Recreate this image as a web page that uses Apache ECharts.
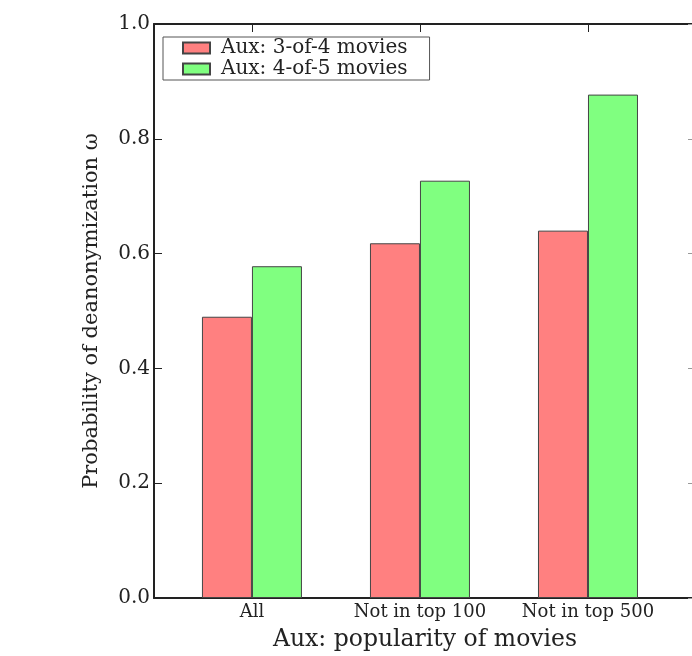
<!DOCTYPE html>
<html>
<head>
<meta charset="utf-8">
<script src="https://cdn.jsdelivr.net/npm/echarts@6/dist/echarts.min.js"></script>
<style>
html,body{margin:0;padding:0;background:#fff;}
#chart{width:692px;height:656px;}
</style>
</head>
<body>
<div id="chart"></div>
<script>
const categories = ['All', 'Not in top 100', 'Not in top 500'];
const seriesNames = ['Aux: 3-of-4 movies', 'Aux: 4-of-5 movies'];
const aux3of4 = [0.49, 0.618, 0.64];
const aux4of5 = [0.578, 0.727, 0.877];
const yTicks = [0.0, 0.2, 0.4, 0.6, 0.8, 1.0];
const catPositions = categories.map((c, i) => i);

const FONT = 'DejaVu Serif';
const chart = echarts.init(document.getElementById('chart'));
const xMin = -0.583, xMax = 2.643;
const toPairs = arr => arr.map((v, i) => [catPositions[i], v]);

chart.setOption({
  animation: false,
  backgroundColor: '#fff',
  textStyle: { fontFamily: FONT, color: '#222' },
  grid: { left: 154, width: 542, top: 24, bottom: 58, containLabel: false, outerBoundsMode: 'none' },
  legend: {
    orient: 'vertical',
    left: 163, top: 37,
    data: seriesNames,
    icon: 'rect',
    itemWidth: 27, itemHeight: 11,
    itemGap: 1,
    padding: [1, 22, 1, 19],
    borderColor: '#555', borderWidth: 1, borderRadius: 0,
    textStyle: { fontFamily: FONT, fontSize: 20, color: '#222', padding: [0, 0, 0, 6] },
    backgroundColor: '#fff'
  },
  xAxis: [{
    type: 'value', min: xMin, max: xMax, position: 'bottom',
    name: 'Aux: popularity of movies', nameLocation: 'middle', nameGap: 30,
    nameTextStyle: { fontFamily: FONT, fontSize: 23.5, color: '#222' },
    axisLine: { show: true, onZero: false, lineStyle: { color: '#222', width: 2 } },
    axisTick: { show: true, inside: true, length: 8, customValues: catPositions, lineStyle: { color: '#222' } },
    axisLabel: { customValues: catPositions, formatter: v => categories[Math.round(v)], fontFamily: FONT, fontSize: 18, color: '#222', margin: 5 },
    splitLine: { show: false }
  }, {
    type: 'value', min: xMin, max: xMax, position: 'top',
    axisLine: { show: true, onZero: false, lineStyle: { color: '#222', width: 2 } },
    axisTick: { show: true, inside: true, length: 8, customValues: catPositions, lineStyle: { color: '#222' } },
    axisLabel: { show: false },
    splitLine: { show: false }
  }],
  yAxis: [{
    type: 'value', min: 0, max: 1, interval: 0.2, position: 'left',
    name: 'Probability of deanonymization ω', nameLocation: 'middle', nameGap: 52,
    nameTextStyle: { fontFamily: FONT, fontSize: 21, color: '#222' },
    axisLine: { show: true, onZero: false, lineStyle: { color: '#222', width: 2 } },
    axisTick: { show: true, inside: true, length: 8, lineStyle: { color: '#222' } },
    axisLabel: { formatter: v => v.toFixed(1), fontFamily: FONT, fontSize: 20, color: '#222', margin: 4 },
    splitLine: { show: false }
  }, {
    type: 'value', min: 0, max: 1, interval: 0.2, position: 'right',
    axisLine: { show: true, onZero: false, lineStyle: { color: '#222', width: 2 } },
    axisTick: { show: true, inside: true, length: 8, lineStyle: { color: '#999' } },
    axisLabel: { show: false },
    splitLine: { show: false }
  }],
  series: [{
    name: seriesNames[0], type: 'bar', data: toPairs(aux3of4),
    barWidth: 50, barGap: '0%',
    itemStyle: { color: '#ff8080', borderColor: '#444', borderWidth: 1 }
  }, {
    name: seriesNames[1], type: 'bar', data: toPairs(aux4of5),
    barWidth: 50, barGap: '0%',
    itemStyle: { color: '#80ff80', borderColor: '#444', borderWidth: 1 }
  }]
});
</script>
</body>
</html>
